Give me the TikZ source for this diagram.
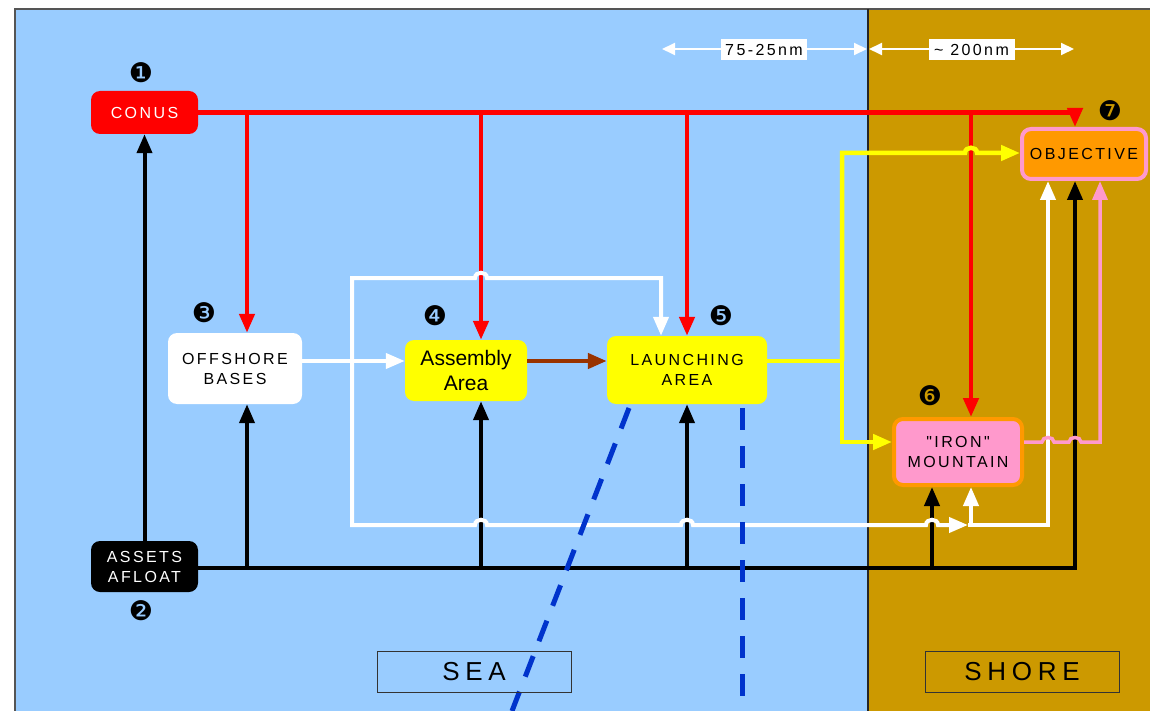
\documentclass[tikz,border=0pt]{standalone}
\usepackage{fontspec}
\setmainfont{Liberation Sans}
\newfontfamily\spf[LetterSpace=15]{Liberation Sans}
\newfontfamily\spg[LetterSpace=15]{Liberation Sans}
\newfontfamily\sph[LetterSpace=22]{Liberation Sans}
\newfontfamily\dv{DejaVu Sans}
\usetikzlibrary{arrows.meta}
\definecolor{seab}{HTML}{99CCFF}
\definecolor{shoreb}{HTML}{CC9900}
\definecolor{cred}{HTML}{FF0000}
\definecolor{cyel}{HTML}{FFFF00}
\definecolor{corg}{HTML}{FF9900}
\definecolor{cpnk}{HTML}{FF99CC}
\definecolor{cbrn}{HTML}{993300}
\definecolor{cblu}{HTML}{0033CC}
\definecolor{frame}{HTML}{555555}
\tikzset{
  box/.style={rounded corners=9pt, inner sep=0pt, align=center,
    font=\spf\fontsize{16}{20}\selectfont},
  tip/.style={-{Triangle[length=19pt,width=15pt]}},
  redl/.style={draw=cred, line width=4.5pt},
  blk/.style={draw=black, line width=4pt},
  wht/.style={draw=white, line width=4pt},
  yel/.style={draw=cyel, line width=4.5pt},
  pnk/.style={draw=cpnk, line width=3.5pt},
  brn/.style={draw=cbrn, line width=4.5pt},
  bdash/.style={draw=cblu, line width=5pt, dash pattern=on 22pt off 16pt},
  num/.style={font=\dv\fontsize{27}{27}\selectfont, inner sep=0pt},
  dimarr/.style={draw=white, line width=2pt, {Triangle[length=13pt,width=12pt]}-{Triangle[length=13pt,width=12pt]}},
  dimlab/.style={fill=white, inner sep=0pt, minimum width=86pt, minimum height=21pt,
    font=\spg\fontsize{16}{16}\selectfont},
  zonelab/.style={draw=black!80, line width=1pt, inner sep=0pt, minimum width=194pt,
    minimum height=41pt, font=\sph\fontsize{26}{26}\selectfont},
}
\begin{document}
\begin{tikzpicture}[x=1pt,y=-1pt]
\useasboundingbox (0,0) rectangle (1150,711);
% background
\fill[white] (0,0) rectangle (1150,711);
\fill[seab] (15,9) rectangle (868,711);
\fill[shoreb] (868,9) rectangle (1150,711);
\draw[frame, line width=1.5pt] (15,711) -- (15,9) -- (1150,9);
\draw[black!85, line width=1.5pt] (868,9) -- (868,711);

% nodes
\node[box, fill=cred, text=white, minimum width=107pt, minimum height=43pt] (conus) at (144.5,112.5) {CONUS};
\node[box, fill=black, text=white, minimum width=107pt, minimum height=51pt] (assets) at (144.5,566.5) {ASSETS\\AFLOAT};
\node[box, fill=white, minimum width=134pt, minimum height=71pt] (off) at (235,368.5) {OFFSHORE\\BASES};
\node[box, fill=cyel, minimum width=122pt, minimum height=61pt, font=\fontsize{21}{25}\selectfont] (asm) at (466,370.5) {Assembly\\Area};
\node[box, fill=cyel, minimum width=160pt, minimum height=68pt] (lau) at (687,370) {LAUNCHING\\AREA};
\node[box, fill=cpnk, draw=corg, line width=4pt, minimum width=128pt, minimum height=66pt] (iron) at (958,452) {"IRON"\\MOUNTAIN};
\node[box, fill=corg, draw=cpnk, line width=4pt, minimum width=124pt, minimum height=50pt] (obj) at (1084,154) {OBJECTIVE};

% numbers
\node[num] (n1) at (141,73) {❶};
\node[num] (n2) at (141,611) {❷};
\node[num] (n3) at (204,313) {❸};
\node[num] (n4) at (435,316) {❹};
\node[num] (n5) at (721,316) {❺};
\node[num] (n6) at (930,396) {❻};
\node[num] (n7) at (1110,111) {❼};

% junction coordinates
\coordinate (r1) at (247,112.5);
\coordinate (r2) at (481,112.5);
\coordinate (r3) at (687,112.5);
\coordinate (r4) at (971,112.5);
\coordinate (b1) at (247,568);
\coordinate (b2) at (481,568);
\coordinate (b3) at (687,568);
\coordinate (b4) at (932,568);
\coordinate (wj) at (352,361);
\coordinate (wm) at (968,525);
\coordinate (yj) at (842,361);

% black lines
\draw[blk, tip] (assets.north) -- (conus.south);
\draw[blk, tip] (assets.east |- b1) -- (1075,568) -- (obj.south -| 1075,0);
\draw[blk, tip] (b1) -- (off.south -| b1);
\draw[blk, tip] (b2) -- (asm.south -| b2);
\draw[blk, tip] (b3) -- (lau.south -| b3);
\draw[blk, tip] (b4) -- (iron.south -| b4);

% red lines
\draw[redl, tip] (conus.east) -- (1075,112.5) -- (obj.north -| 1075,0);
\draw[redl, tip] (r1) -- (off.north -| r1);
\draw[redl, tip] (r2) -- (asm.north -| r2);
\draw[redl, tip] (r3) -- (lau.north -| r3);
\draw[redl, tip] (r4) -- (iron.north -| r4);

% brown
\draw[brn, tip] (asm.east |- 0,361) -- (lau.west |- 0,361);

% white lines
\draw[wht, tip] (off.east |- wj) -- (asm.west |- wj);
\draw[wht, tip] (wj) -- (352,278) -- (475,278) .. controls (475,271) and (487,271) .. (487,278)
  -- (661,278) -- (lau.north -| 661,0);
\draw[wht, tip] (wj) -- (352,525)
  -- (475,525) .. controls (475,518) and (487,518) .. (487,525)
  -- (681,525) .. controls (681,518) and (693,518) .. (693,525)
  -- (926,525) .. controls (926,518) and (938,518) .. (938,525)
  -- (wm);
\draw[wht, tip] (wm) -- (1048,525) -- (obj.south -| 1048,0);
\draw[wht, tip] (971,525) -- (iron.south -| 971,0);

% yellow lines
\draw[yel] (lau.east |- yj) -- (yj);
\draw[yel, tip] (yj) -- (842,153) -- (965,153) .. controls (965,146) and (977,146) .. (977,153)
  -- (obj.west |- 0,153);
\draw[yel, tip] (yj) -- (842,442) -- (iron.west |- 0,442);

% pink line
\draw[pnk, tip] (iron.east |- 0,442) -- (1042,442) .. controls (1042,436) and (1054,436) .. (1054,442)
  -- (1069,442) .. controls (1069,436) and (1081,436) .. (1081,442)
  -- (1100,442) -- (obj.south -| 1100,0);

% blue dashed
\coordinate (d1a) at (629,408);
\coordinate (d1b) at (512,711);
\coordinate (d2a) at (742,408);
\coordinate (d2b) at (742,711);
\draw[bdash] (d1a) -- (d1b);
\draw[bdash] (d2a) -- (d2b);

% dimension arrows
\coordinate (da1) at (662,49);
\coordinate (da2) at (867,49);
\coordinate (da3) at (869,49);
\coordinate (da4) at (1074,49);
\draw[dimarr] (da1) -- (da2);
\draw[dimarr] (da3) -- (da4);
\node[dimlab] (dl1) at (764,50) {75-25nm};
\node[dimlab] (dl2) at (971.5,50) {\textasciitilde\ 200nm};

% zone labels
\node[zonelab] (sea) at (474,671.5) {SEA};
\node[zonelab] (shore) at (1022,671.5) {SHORE};
\end{tikzpicture}
\end{document}
